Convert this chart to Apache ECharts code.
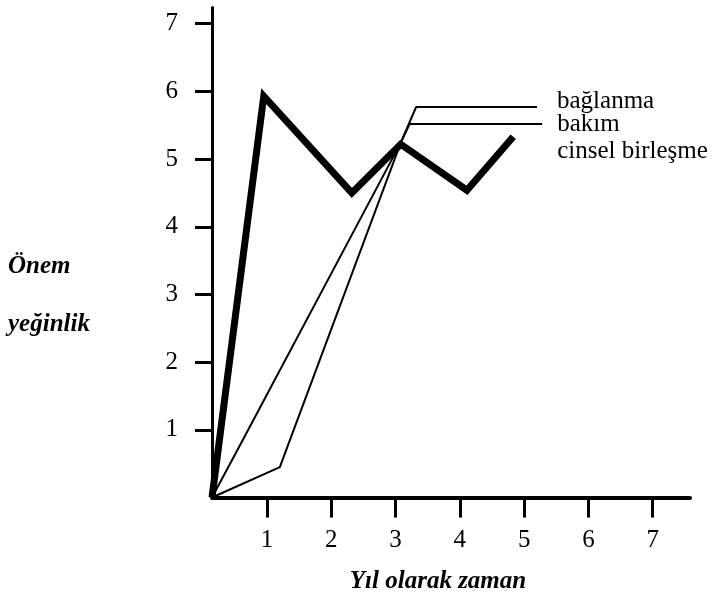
<!DOCTYPE html>
<html>
<head>
<meta charset="utf-8">
<script src="https://cdn.jsdelivr.net/npm/echarts@6/dist/echarts.min.js"></script>
<style>html,body{margin:0;padding:0;background:#fff;}#c{width:718px;height:603px;}</style>
</head>
<body>
<div id="c"></div>
<script>
// Data (x = years, y = importance/intensity)
const xTicks = [1, 2, 3, 4, 5, 6, 7];
const yTicks = [1, 2, 3, 4, 5, 6, 7];

const cinselX = [0.145, 0.95, 2.32, 3.08, 4.11, 4.83];
const cinselY = [0, 5.93, 4.50, 5.22, 4.54, 5.33];

const bakimX = [0.145, 0.63, 3.08, 3.22, 5.28];
const bakimY = [0, 0.86, 5.24, 5.52, 5.52];

const baglanmaX = [0.145, 1.20, 3.08, 3.32, 5.20];
const baglanmaY = [0, 0.45, 5.24, 5.77, 5.77];

const seriesNames = ['bağlanma', 'bakım', 'cinsel birleşme'];

const FONT = 'Liberation Serif';
const zip = (xs, ys) => xs.map((x, i) => [x, ys[i]]);

const chart = echarts.init(document.getElementById('c'));
chart.setOption({
  backgroundColor: '#fff',
  animation: false,
  grid: { left: 212, top: 7.5, width: 478, height: 490 },
  xAxis: {
    type: 'value', min: 0.145, max: 7.58,
    splitLine: { show: false },
    axisLine: { show: true, lineStyle: { color: '#000', width: 4 } },
    axisTick: { show: true, customValues: xTicks, length: 20, lineStyle: { color: '#000', width: 3 } },
    axisLabel: { customValues: xTicks, margin: 30, color: '#000', fontFamily: FONT, fontSize: 25 },
    name: 'Yıl olarak zaman', nameLocation: 'middle', nameGap: 72,
    nameTextStyle: { color: '#000', fontFamily: FONT, fontSize: 25, fontStyle: 'italic', fontWeight: 'bold', padding: [0, 26, 0, 0] }
  },
  yAxis: {
    type: 'value', min: 0, max: 7.24,
    splitLine: { show: false },
    axisLine: { show: true, lineStyle: { color: '#000', width: 3 } },
    axisTick: { show: true, customValues: yTicks, length: 17, lineStyle: { color: '#000', width: 3 } },
    axisLabel: { customValues: yTicks, margin: 34, color: '#000', fontFamily: FONT, fontSize: 25, padding: [0, 0, 6, 0] }
  },
  graphic: [
    { type: 'text', left: 8, top: 254, style: { text: 'Önem', font: 'italic bold 25px "Liberation Serif"', fill: '#000' } },
    { type: 'text', left: 8, top: 312, style: { text: 'yeğinlik', font: 'italic bold 25px "Liberation Serif"', fill: '#000' } }
  ],
  series: [
    {
      name: seriesNames[0], type: 'line', data: zip(baglanmaX, baglanmaY),
      symbol: 'none', lineStyle: { color: '#000', width: 2 },
      endLabel: { show: true, formatter: '{a}', distance: 20, offset: [0, -6], color: '#000', fontFamily: FONT, fontSize: 25 }
    },
    {
      name: seriesNames[1], type: 'line', data: zip(bakimX, bakimY),
      symbol: 'none', lineStyle: { color: '#000', width: 2 },
      endLabel: { show: true, formatter: '{a}', distance: 15, offset: [0, 1], color: '#000', fontFamily: FONT, fontSize: 25 }
    },
    {
      name: seriesNames[2], type: 'line', data: zip(cinselX, cinselY),
      symbol: 'none', lineStyle: { color: '#000', width: 7, join: 'miter', cap: 'butt' },
      endLabel: { show: true, formatter: '{a}', distance: 44, offset: [0, 15], color: '#000', fontFamily: FONT, fontSize: 25 }
    }
  ]
});
</script>
</body>
</html>
